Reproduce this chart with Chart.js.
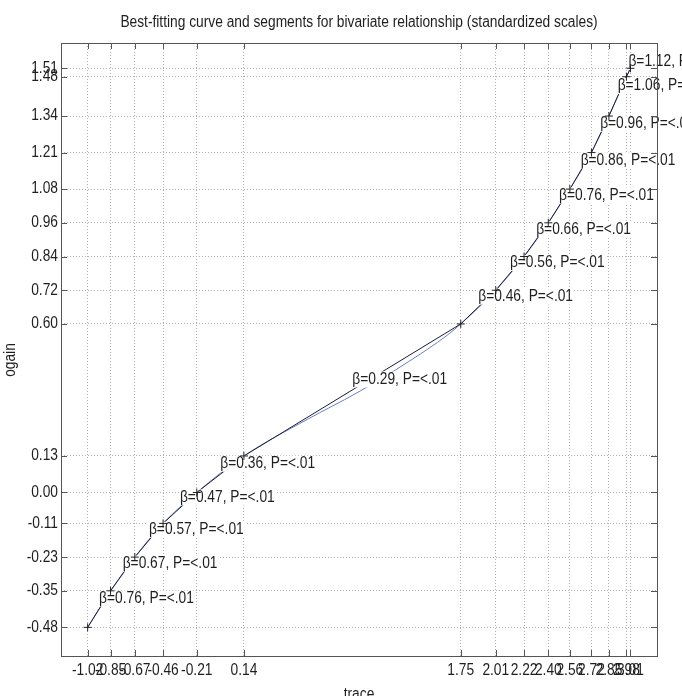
<!DOCTYPE html>
<html>
<head>
<meta charset="utf-8">
<script src="https://cdn.jsdelivr.net/npm/chart.js@4/dist/chart.umd.min.js"></script>
<style>
html,body{margin:0;padding:0;background:#fff;overflow:hidden;}
canvas{display:block;}
</style>
</head>
<body>
<canvas id="c" width="682" height="696"></canvas>
<script>
// ---- data ----
const chartTitle = 'Best-fitting curve and segments for bivariate relationship (standardized scales)';
const xAxisTitle = 'trace';
const yAxisTitle = 'ogain';

const knotX = [-1.02, -0.85, -0.67, -0.46, -0.21, 0.14, 1.75, 2.01, 2.22, 2.40, 2.56, 2.72, 2.85, 2.98, 3.01];
const knotY = [-0.48, -0.35, -0.23, -0.11, 0.00, 0.13, 0.60, 0.72, 0.84, 0.96, 1.08, 1.21, 1.34, 1.48, 1.51];

const xTickValues = [-1.02, -0.85, -0.67, -0.46, -0.21, 0.14, 1.75, 2.01, 2.22, 2.40, 2.56, 2.72, 2.85, 2.98, 3.01];
const yTickValues = [-0.48, -0.35, -0.23, -0.11, 0.00, 0.13, 0.60, 0.72, 0.84, 0.96, 1.08, 1.21, 1.34, 1.48, 1.51];

const curveX = [-1.02, -0.85, -0.67, -0.46, -0.21, 0.14, 0.61, 0.98, 1.36, 1.65, 1.75, 2.01, 2.22, 2.40, 2.56, 2.72, 2.85, 2.98, 3.01];
const curveY = [-0.48, -0.35, -0.23, -0.11, 0.00, 0.13, 0.26, 0.355, 0.465, 0.56, 0.60, 0.72, 0.84, 0.96, 1.08, 1.21, 1.34, 1.48, 1.51];

const segmentBetas = ['0.76', '0.67', '0.57', '0.47', '0.36', '0.29', '0.46', '0.56', '0.66', '0.76', '0.86', '0.96', '1.06', '1.12'];
const segmentP = ['<.01', '<.01', '<.01', '<.01', '<.01', '<.01', '<.01', '<.01', '<.01', '<.01', '<.01', '<.01', '<.01', '<.01'];

// ---- style ----
const FONT = '16px "Liberation Sans", Arial, sans-serif';
const SQUEEZE = 0.86; // narrow look of the original lettering
const TEXT_COLOR = '#1e1e1e';
const AXIS_COLOR = '#555555';

function narrowText(ctx, txt, x, y, align, baseline) {
  ctx.save();
  ctx.font = FONT;
  ctx.textAlign = align;
  ctx.textBaseline = baseline;
  ctx.translate(x, y);
  ctx.scale(SQUEEZE, 1);
  ctx.fillText(txt, 0, 0);
  ctx.restore();
}

const labelsPlugin = {
  id: 'segLabels',
  afterDatasetDraw(chart, args) {
    if (args.index !== 0) return;
    const ctx = chart.ctx;
    const xs = chart.scales.x, ys = chart.scales.y;
    ctx.save();
    ctx.font = FONT;
    for (let i = 0; i < segmentBetas.length; i++) {
      const x0 = xs.getPixelForValue(knotX[i]), x1 = xs.getPixelForValue(knotX[i + 1]);
      const y0 = ys.getPixelForValue(knotY[i]), y1 = ys.getPixelForValue(knotY[i + 1]);
      const mx = (x0 + x1) / 2;
      const my = (y0 + y1) / 2 - 10.5;
      const txt = 'β=' + segmentBetas[i] + ', P=' + segmentP[i];
      const w = ctx.measureText(txt).width * SQUEEZE;
      ctx.fillStyle = '#ffffff';
      ctx.fillRect(mx - 1, my - 8, w + 2, 16);
      ctx.fillStyle = TEXT_COLOR;
      narrowText(ctx, txt, mx, my, 'left', 'middle');
    }
    ctx.restore();
  }
};

const framePlugin = {
  id: 'frame',
  afterDraw(chart) {
    const ctx = chart.ctx;
    const a = chart.chartArea;
    const xs = chart.scales.x, ys = chart.scales.y;
    const tl = 6;
    ctx.save();
    ctx.strokeStyle = AXIS_COLOR;
    ctx.lineWidth = 1;
    ctx.beginPath();
    xTickValues.forEach(v => {
      const px = Math.round(xs.getPixelForValue(v)) + 0.5;
      ctx.moveTo(px, a.bottom); ctx.lineTo(px, a.bottom - tl);
      ctx.moveTo(px, a.top); ctx.lineTo(px, a.top + tl);
    });
    yTickValues.forEach(v => {
      const py = Math.round(ys.getPixelForValue(v)) + 0.5;
      ctx.moveTo(a.left, py); ctx.lineTo(a.left + tl, py);
      ctx.moveTo(a.right, py); ctx.lineTo(a.right - tl, py);
    });
    ctx.stroke();
    ctx.strokeRect(Math.round(a.left) + 0.5, Math.round(a.top) + 0.5, Math.round(a.right - a.left), Math.round(a.bottom - a.top));

    ctx.fillStyle = TEXT_COLOR;
    // tick labels
    xTickValues.forEach(v => {
      narrowText(ctx, v.toFixed(2), xs.getPixelForValue(v), a.bottom + 7, 'center', 'top');
    });
    yTickValues.forEach(v => {
      narrowText(ctx, v.toFixed(2), a.left - 3, ys.getPixelForValue(v), 'right', 'middle');
    });
    // titles
    const cx = (a.left + a.right) / 2;
    narrowText(ctx, chartTitle, cx, 27, 'center', 'alphabetic');
    narrowText(ctx, xAxisTitle, cx, 699, 'center', 'alphabetic');
    ctx.save();
    ctx.translate(15, 360);
    ctx.rotate(-Math.PI / 2);
    narrowText(ctx, yAxisTitle, 0, 0, 'center', 'alphabetic');
    ctx.restore();
    ctx.restore();
  }
};

new Chart(document.getElementById('c'), {
  type: 'scatter',
  data: {
    datasets: [
      {
        label: 'segments',
        data: knotX.map((x, i) => ({ x: x, y: knotY[i] })),
        showLine: true,
        borderColor: '#1c1c36',
        borderWidth: 1,
        pointRadius: 0,
        order: 1
      },
      {
        label: 'curve',
        data: curveX.map((x, i) => ({ x: x, y: curveY[i] })),
        showLine: true,
        borderColor: '#6a7ccc',
        borderWidth: 1,
        pointRadius: 0,
        cubicInterpolationMode: 'monotone',
        order: 2
      },
      {
        label: 'knots',
        data: knotX.map((x, i) => ({ x: x, y: knotY[i] })),
        showLine: false,
        pointStyle: 'cross',
        pointRadius: 4,
        borderColor: '#222222',
        borderWidth: 1,
        order: 0
      }
    ]
  },
  options: {
    responsive: false,
    animation: false,
    devicePixelRatio: 1,
    layout: { padding: { left: 0, top: 43, right: 25, bottom: 0 } },
    plugins: { legend: { display: false }, tooltip: { enabled: false }, title: { display: false } },
    scales: {
      x: {
        type: 'linear',
        min: -1.218,
        max: 3.207,
        afterBuildTicks: s => { s.ticks = xTickValues.map(v => ({ value: v })); },
        afterFit: s => { s.height = 40; },
        ticks: { display: false, autoSkip: false },
        grid: { color: '#b0b0b0', lineWidth: 1, drawTicks: false },
        border: { display: false, dash: [1, 2] }
      },
      y: {
        type: 'linear',
        min: -0.582,
        max: 1.60,
        afterBuildTicks: s => { s.ticks = yTickValues.map(v => ({ value: v })); },
        afterFit: s => { s.width = 61; },
        ticks: { display: false, autoSkip: false },
        grid: { color: '#b0b0b0', lineWidth: 1, drawTicks: false },
        border: { display: false, dash: [1, 2] }
      }
    }
  },
  plugins: [labelsPlugin, framePlugin]
});
</script>
</body>
</html>
